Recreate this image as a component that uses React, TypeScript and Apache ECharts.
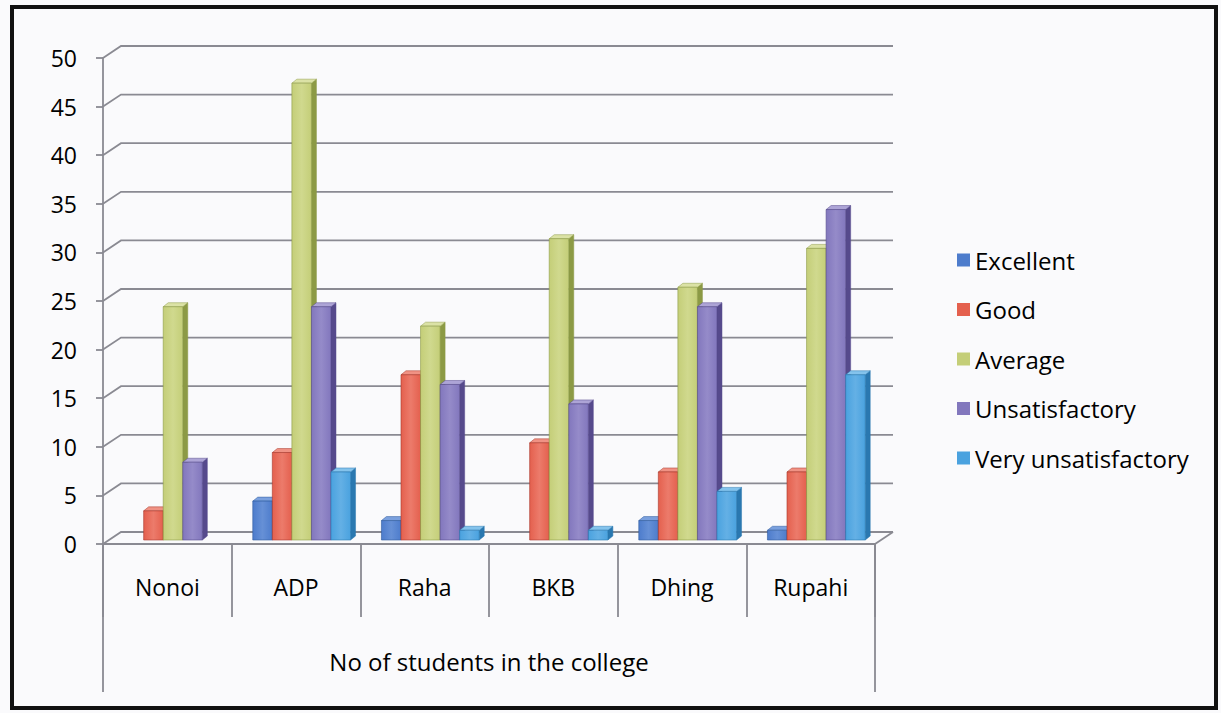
import React, { useEffect, useRef } from "react";
import * as echarts from "echarts";

const categories = ["Nonoi", "ADP", "Raha", "BKB", "Dhing", "Rupahi"];
const seriesNames = ["Excellent", "Good", "Average", "Unsatisfactory", "Very unsatisfactory"];
const excellent = [0, 4, 2, 0, 2, 1];
const good = [3, 9, 17, 10, 7, 7];
const average = [24, 47, 22, 31, 26, 30];
const unsatisfactory = [8, 24, 16, 14, 24, 34];
const veryUnsatisfactory = [0, 7, 1, 1, 5, 17];
const yTicks = [0, 5, 10, 15, 20, 25, 30, 35, 40, 45, 50];

const seriesValues = [excellent, good, average, unsatisfactory, veryUnsatisfactory];
const frontColors = ["#4d7ccc", "#e4604e", "#c4ce78", "#8277bd", "#4aa2df"];
const lightColors = ["#6690d6", "#ec7b6b", "#d0d98e", "#958bc9", "#64b0e5"];
const sideColors = ["#2f5a9c", "#a8382b", "#8c9a45", "#564a8c", "#2a78b0"];
const topColors = ["#7aa0de", "#f09284", "#dbe2a6", "#ada4d6", "#84c3ec"];

const FONT = "'Open Sans', 'Noto Sans', sans-serif";
const GRID_COLOR = "#8a8a92";
const DX = 18;
const DY = -12;
const TABLE_DEPTH = 148;

export default function App() {
  const ref = useRef<HTMLDivElement>(null);
  useEffect(() => {
    if (!ref.current) return;
    const chart = echarts.init(ref.current, null, { renderer: "svg" });

    const decor = {
      type: "custom",
      name: "__grid",
      z: 1,
      silent: true,
      data: yTicks.map((v) => [0, v]),
      encode: { x: 0, y: 1 },
      renderItem: (params: any, api: any) => {
        const v = api.value(1);
        const cs = params.coordSys;
        const y = api.coord([0, v])[1];
        const children: any[] = [
          {
            type: "polyline",
            shape: {
              points: [
                [cs.x, y],
                [cs.x + DX, y + DY],
                [cs.x + cs.width + DX, y + DY],
              ],
            },
            style: { stroke: GRID_COLOR, lineWidth: 1.8, fill: "none" },
          },
        ];
        if (v === 0) {
          children.push({
            type: "line",
            shape: { x1: cs.x + cs.width, y1: y, x2: cs.x + cs.width + DX, y2: y + DY },
            style: { stroke: GRID_COLOR, lineWidth: 1.8 },
          });
          children.push({
            type: "line",
            shape: { x1: cs.x, y1: y, x2: cs.x, y2: y + TABLE_DEPTH },
            style: { stroke: GRID_COLOR, lineWidth: 1.8 },
          });
          children.push({
            type: "line",
            shape: { x1: cs.x + cs.width, y1: y, x2: cs.x + cs.width, y2: y + TABLE_DEPTH },
            style: { stroke: GRID_COLOR, lineWidth: 1.8 },
          });
        }
        return { type: "group", children };
      },
    };

    const barSeries = seriesNames.map((name, k) => ({
      type: "custom",
      name,
      z: 2,
      itemStyle: { color: frontColors[k] },
      data: seriesValues[k].map((v, i) => [i, v]),
      encode: { x: 0, y: 1 },
      renderItem: (params: any, api: any) => {
        const cat = api.value(0);
        const v = api.value(1);
        if (!v) return { type: "group", children: [] };
        const base = api.coord([cat, 0]);
        const top = api.coord([cat, v]);
        const band = api.size([1, 0])[0];
        const w = band * 0.152;
        const ox = band * 0.044;
        const oy = -4;
        const x0 = base[0] + ox + (k - 2.5) * w;
        const x1 = x0 + w;
        const yb = base[1] + oy;
        const yt = top[1] + oy;
        const bx = 5;
        const by = -4;
        return {
          type: "group",
          children: [
            {
              type: "polygon",
              shape: { points: [[x1, yb], [x1, yt], [x1 + bx, yt + by], [x1 + bx, yb + by]] },
              style: { fill: sideColors[k], stroke: sideColors[k], lineWidth: 0.5 },
            },
            {
              type: "polygon",
              shape: { points: [[x0, yt], [x1, yt], [x1 + bx, yt + by], [x0 + bx, yt + by]] },
              style: { fill: topColors[k], stroke: sideColors[k], lineWidth: 0.5 },
            },
            {
              type: "rect",
              shape: { x: x0, y: yt, width: w, height: yb - yt },
              style: {
                fill: new echarts.graphic.LinearGradient(0, 0, 1, 0, [
                  { offset: 0, color: frontColors[k] },
                  { offset: 0.5, color: lightColors[k] },
                  { offset: 1, color: frontColors[k] },
                ]),
                stroke: sideColors[k],
                lineWidth: 0.6,
              },
            },
          ],
        };
      },
    }));

    chart.setOption({
      animation: false,
      backgroundColor: "#fafafc",
      textStyle: { fontFamily: FONT },
      graphic: [
        {
          type: "rect",
          shape: { x: 12, y: 7, width: 1204, height: 701 },
          style: { fill: "none", stroke: "#111", lineWidth: 4 },
          z: 100,
        },
      ],
      grid: { left: 103, right: 346, top: 58, bottom: 169, containLabel: false },
      legend: {
        orient: "vertical",
        left: 952,
        top: 243,
        itemWidth: 13,
        itemHeight: 13,
        itemGap: 25.5,
        icon: "rect",
        data: seriesNames,
        textStyle: { fontFamily: FONT, fontSize: 24, color: "#000", lineHeight: 24 },
      },
      xAxis: {
        type: "category",
        data: categories,
        boundaryGap: true,
        axisLine: { show: true, lineStyle: { color: GRID_COLOR, width: 1.8 } },
        axisTick: { show: true, interval: 0, length: 73, lineStyle: { color: GRID_COLOR, width: 1.8 } },
        axisLabel: { fontFamily: FONT, fontSize: 23, color: "#000", margin: 31, lineHeight: 24, interval: 0 },
        splitLine: { show: false },
        name: "No of students in the college",
        nameLocation: "middle",
        nameGap: 105,
        nameTextStyle: { fontFamily: FONT, fontSize: 24, color: "#000", lineHeight: 24 },
      },
      yAxis: {
        type: "value",
        min: 0,
        max: 50,
        interval: 5,
        axisLine: { show: true, lineStyle: { color: GRID_COLOR, width: 1.8 } },
        axisTick: { show: true, length: 7, lineStyle: { color: GRID_COLOR, width: 1.8 } },
        axisLabel: { fontFamily: FONT, fontSize: 23, color: "#000", margin: 26 },
        splitLine: { show: false },
      },
      series: [decor, ...barSeries],
    });
    return () => chart.dispose();
  }, []);
  return (
    <div
      ref={ref}
      style={{ position: "absolute", left: 0, top: 0, width: 1221, height: 713 }}
    />
  );
}
